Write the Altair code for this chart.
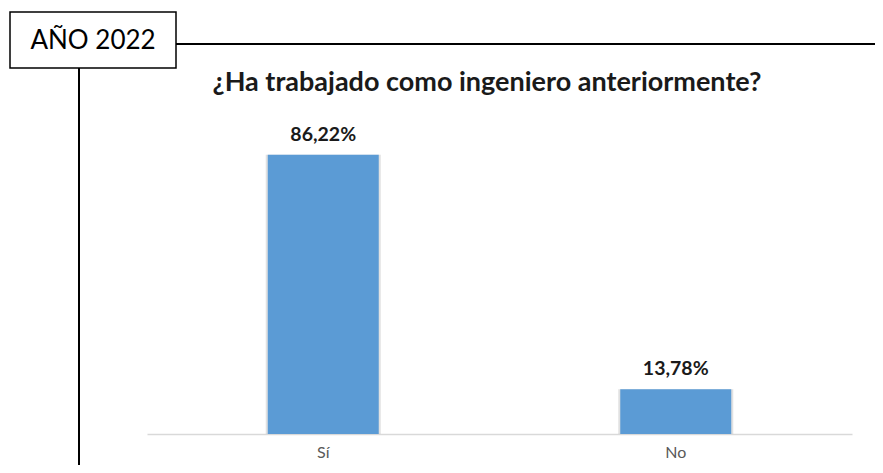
import altair as alt
import pandas as pd

categories = ["Sí", "No"]
values = [86.22, 13.78]
value_labels = ["86,22%", "13,78%"]
title_text = "¿Ha trabajado como ingeniero anteriormente?"
box_text = "AÑO 2022"

FONT = "Lato"
df = pd.DataFrame({"cat": categories, "val": values, "lab": value_labels})
one = pd.DataFrame({"a": [0]})

x_enc = alt.X("cat:N", sort=categories, title=None,
              scale=alt.Scale(paddingInner=0, paddingOuter=0),
              axis=alt.Axis(domainColor="#d9d9d9", domainWidth=1.5, ticks=False,
                            labelAngle=0, labelFont=FONT, labelFontSize=16,
                            labelColor="#595959", labelPadding=10, grid=False))
y_enc = alt.Y("val:Q", scale=alt.Scale(domain=[0, 100]), axis=None)

shadow = alt.Chart(df).mark_bar(size=115, color="#9a9a9a", opacity=0.3).encode(x=x_enc, y=y_enc)
bars = alt.Chart(df).mark_bar(size=111, color="#5b9bd5").encode(x=x_enc, y=y_enc)
labels = alt.Chart(df).mark_text(font=FONT, fontSize=19.5, fontWeight="bold", color="#1a1a1a",
                                 dy=-14, baseline="alphabetic").encode(
    x=x_enc, y=y_enc, text="lab:N")

title = alt.Chart(one).mark_text(font=FONT, fontSize=27, fontWeight="bold", color="#1a1a1a",
                                 baseline="alphabetic", align="center").encode(
    x=alt.value(340), y=alt.value(-19), text=alt.value(title_text))

hline = alt.Chart(one).mark_rule(color="black", strokeWidth=2, clip=False).encode(
    x=alt.value(29), x2=alt.value(740), y=alt.value(-66))
vline = alt.Chart(one).mark_rule(color="black", strokeWidth=2, clip=False).encode(
    x=alt.value(-68), y=alt.value(-42), y2=alt.value(370))
box = alt.Chart(one).mark_rect(fill="white", stroke="black", strokeWidth=1.5, clip=False).encode(
    x=alt.value(-137), x2=alt.value(29), y=alt.value(-98), y2=alt.value(-42))
box_label = alt.Chart(one).mark_text(font=FONT, fontSize=26, color="black",
                                     baseline="middle", align="center").encode(
    x=alt.value(-54), y=alt.value(-69), text=alt.value(box_text))

chart = alt.layer(hline, vline, box, box_label, title, shadow, bars, labels).properties(
    width=705, height=324,
    background="white",
    autosize=alt.AutoSizeParams(type="none"),
    padding={"left": 139, "top": 102, "right": 23, "bottom": 31},
).configure_view(strokeWidth=0, stroke="transparent")

chart.save("out.html", embed_options={"renderer": "svg", "actions": False})
